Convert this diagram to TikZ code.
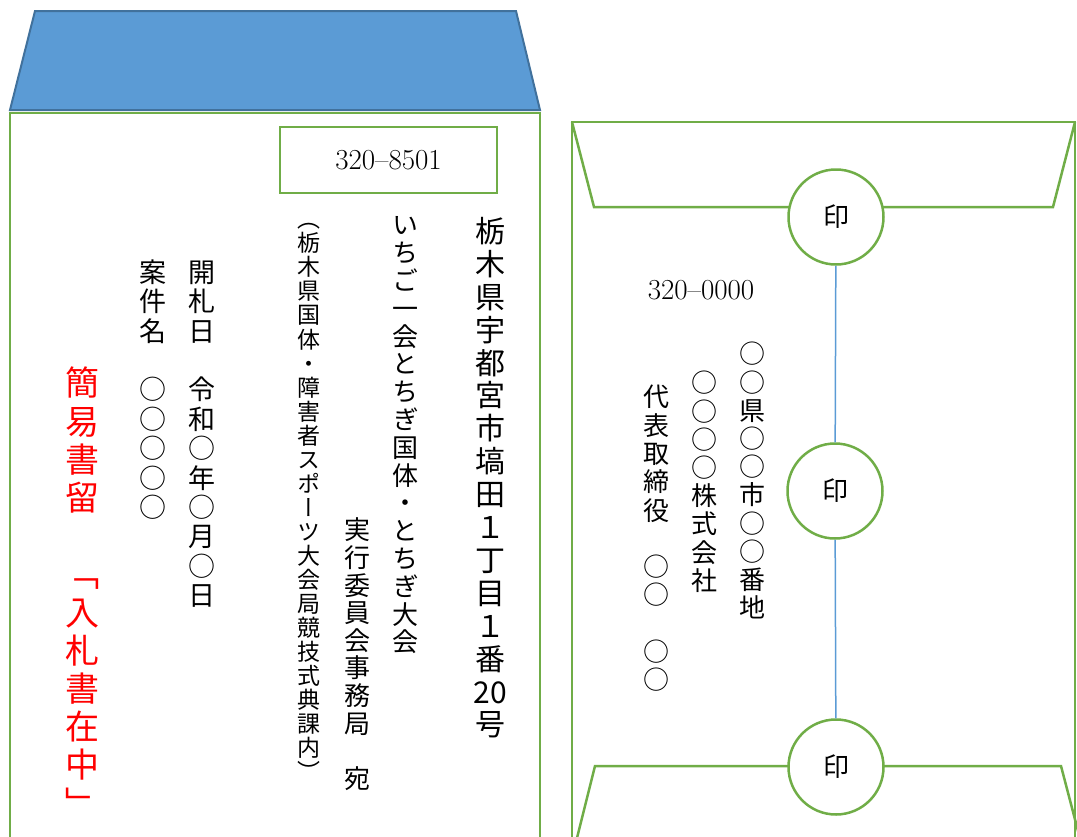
\documentclass[tikz,border=0pt]{standalone}
\usepackage{fontspec}
\newfontfamily\cjk[RawFeature=+vert]{Noto Sans CJK JP}
\newfontfamily\cjkh{Noto Sans CJK JP}
\definecolor{envgreen}{HTML}{70AD47}
\definecolor{flapblue}{HTML}{5B9BD5}
\definecolor{flapedge}{HTML}{41719C}
\definecolor{sealline}{HTML}{5B9BD5}
\definecolor{redtext}{HTML}{FF0000}
\makeatletter
\def\vt@add#1{\g@addto@macro\vt@list{\\#1}}
\def\vcol@i#1#2\@nil{\gdef\vt@list{#1\rule{0pt}{0.88em}}\@tfor\vt@c:=#2\do{\expandafter\vt@add\expandafter{\vt@c}}\vt@list}
\newcommand\vcol[1]{\vcol@i#1\@nil}
\makeatother
\tikzset{
  envline/.style={draw=envgreen, line width=2.5pt},
  vtext/.style={anchor=north, align=center, inner sep=0pt, outer sep=0pt},
  zipbox/.style={draw=envgreen, line width=2.5pt, minimum width=217pt, minimum height=66pt, inner sep=0pt, font=\fontsize{29}{32}\selectfont},
  ziptext/.style={inner sep=0pt, font=\fontsize{29}{32}\selectfont},
  seal/.style={circle, draw=envgreen, line width=2.5pt, fill=white, minimum size=95pt, inner sep=0pt, font=\cjkh\fontsize{26}{26}\selectfont},
  sealconn/.style={draw=sealline, line width=1.5pt},
}
\begin{document}
\begin{tikzpicture}[x=1pt,y=-1pt]
\useasboundingbox (0,0) rectangle (1077,836);
\begin{scope}
\clip (0,0) rectangle (1077,836);
% left envelope
\draw[envline] (10,113) rectangle (540,870);
\draw[draw=flapedge, fill=flapblue, line width=2pt] (35,11) -- (516,11) -- (540,110) -- (10,110) -- cycle;
\node[zipbox] (zip) at (388.5,160) {320\textendash8501};

\node[vtext, font=\cjk\fontsize{30}{32.9}\selectfont] (colA) at (490,216) {\vcol{栃木県宇都宮市塙田１丁目１番{20}号}};
\node[vtext, font=\cjk\fontsize{26}{27.8}\selectfont] (colB) at (405,212) {\vcol{いちご一会とちぎ国体・とちぎ大会}};
\node[vtext, font=\cjk\fontsize{26}{27.6}\selectfont] (colD) at (357,517) {\vcol{実行委員会事務局　宛}};
\node[vtext, font=\cjk\fontsize{23}{24.05}\selectfont] (colC) at (309,207.5) {\vcol{︵栃木県国体・障害者スポーツ大会局競技式典課内︶}};
\node[vtext, font=\cjk\fontsize{27}{29.4}\selectfont] (colE) at (202,258.5) {\vcol{開札日　令和○年○月○日}};
\node[vtext, font=\cjk\fontsize{27}{29.4}\selectfont] (colF) at (153,258.5) {\vcol{案件名　○○○○○}};
\node[vtext, font=\cjk\fontsize{34}{38.2}\selectfont, text=redtext] (colG) at (82,366) {\vcol{簡易書留　﹁入札書在中﹂}};

% right envelope
\draw[envline] (572,122) rectangle (1075,870);
\draw[envline] (572,122) -- (594,207) -- (1053,207) -- (1075,122);
\draw[envline] (574,850) -- (595,766) -- (1061,766) -- (1083,850);
\node[ziptext] (zip2) at (701,290) {320\textendash0000};
\node[vtext, font=\cjk\fontsize{26}{28.2}\selectfont] (colR1) at (752,341) {\vcol{○○県○○市○○番地}};
\node[vtext, font=\cjk\fontsize{26}{28.2}\selectfont] (colR2) at (704,370) {\vcol{○○○○株式会社}};
\node[vtext, font=\cjk\fontsize{26}{28.3}\selectfont] (colR3) at (656,384) {\vcol{代表取締役　○○　○○}};

\node[seal] (s1) at (836,217) {印};
\node[seal] (s2) at (835,491) {印};
\node[seal] (s3) at (836,767) {印};
\draw[sealconn] (s1) -- (s2);
\draw[sealconn] (s2) -- (s3);
\end{scope}
\end{tikzpicture}
\end{document}
